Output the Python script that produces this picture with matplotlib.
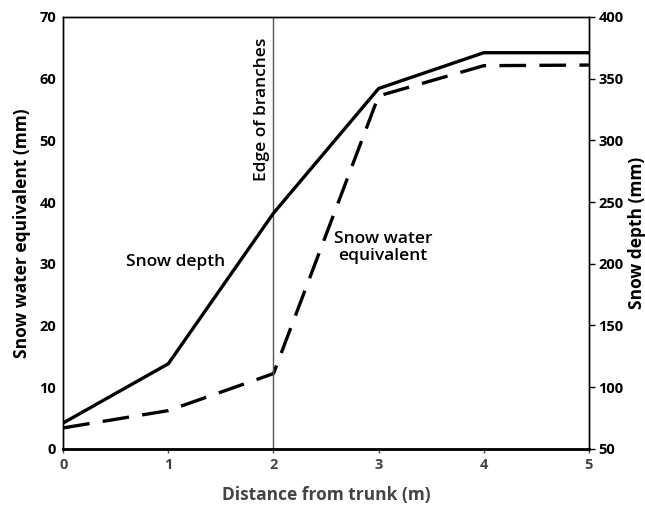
import matplotlib
matplotlib.use("Agg")
import matplotlib.pyplot as plt

distance = [0, 1, 2, 3, 4, 5]
snow_depth = [71, 119, 241, 342, 371, 371]          # mm, right axis
swe = [3.4, 6.2, 12.2, 57.2, 62.1, 62.2]            # mm, left axis
left_ticks = [0, 10, 20, 30, 40, 50, 60, 70]
right_ticks = [50, 100, 150, 200, 250, 300, 350, 400]

plt.rcParams['font.family'] = ['Open Sans', 'DejaVu Sans']

fig = plt.figure(figsize=(6.45, 5.13), dpi=100)
ax = fig.add_axes([0.098, 0.125, 0.815, 0.842])
ax2 = ax.twinx()

ax.plot(distance, swe, color='black', lw=2.4, linestyle=(0, (8, 4)))
ax2.plot(distance, snow_depth, color='black', lw=2.4)

ax.axvline(2, color='#555555', lw=1.0)

ax.set_xlim(0, 5)
ax.set_ylim(0, 70)
ax2.set_ylim(50, 400)
ax.set_xticks(distance)
ax.set_yticks(left_ticks)
ax2.set_yticks(right_ticks)

for a in (ax, ax2):
    a.tick_params(labelsize=10.5, width=1, length=3)
    for s in a.spines.values():
        s.set_linewidth(1.0)
ax.spines['bottom'].set_linewidth(2.0)
ax.tick_params(axis='y', length=0, pad=5)
ax.tick_params(axis='x', colors='#444444', labelcolor='#444444', length=3)
ax2.tick_params(axis='y', length=4, pad=3)
for lbl in ax.get_xticklabels() + ax.get_yticklabels() + ax2.get_yticklabels():
    lbl.set_fontweight('bold')

ax.set_xlabel('Distance from trunk (m)', fontsize=12.5, fontweight='bold', color='#444444', labelpad=10)
ax.set_ylabel('Snow water equivalent (mm)', fontsize=12.5, fontweight='bold', labelpad=6)
ax2.set_ylabel('Snow depth (mm)', fontsize=12.5, fontweight='bold', labelpad=3)

ax.text(1.89, 55, 'Edge of branches', rotation=90, fontsize=12.5, fontweight='semibold',
        ha='center', va='center')
ax.text(1.07, 30.3, 'Snow depth', fontsize=12.5, fontweight='semibold', ha='center', va='center')
ax.text(3.04, 32.6, 'Snow water\nequivalent', fontsize=12.5, fontweight='semibold',
        ha='center', va='center', linespacing=1.1)

fig.savefig('out.png', dpi=100)
